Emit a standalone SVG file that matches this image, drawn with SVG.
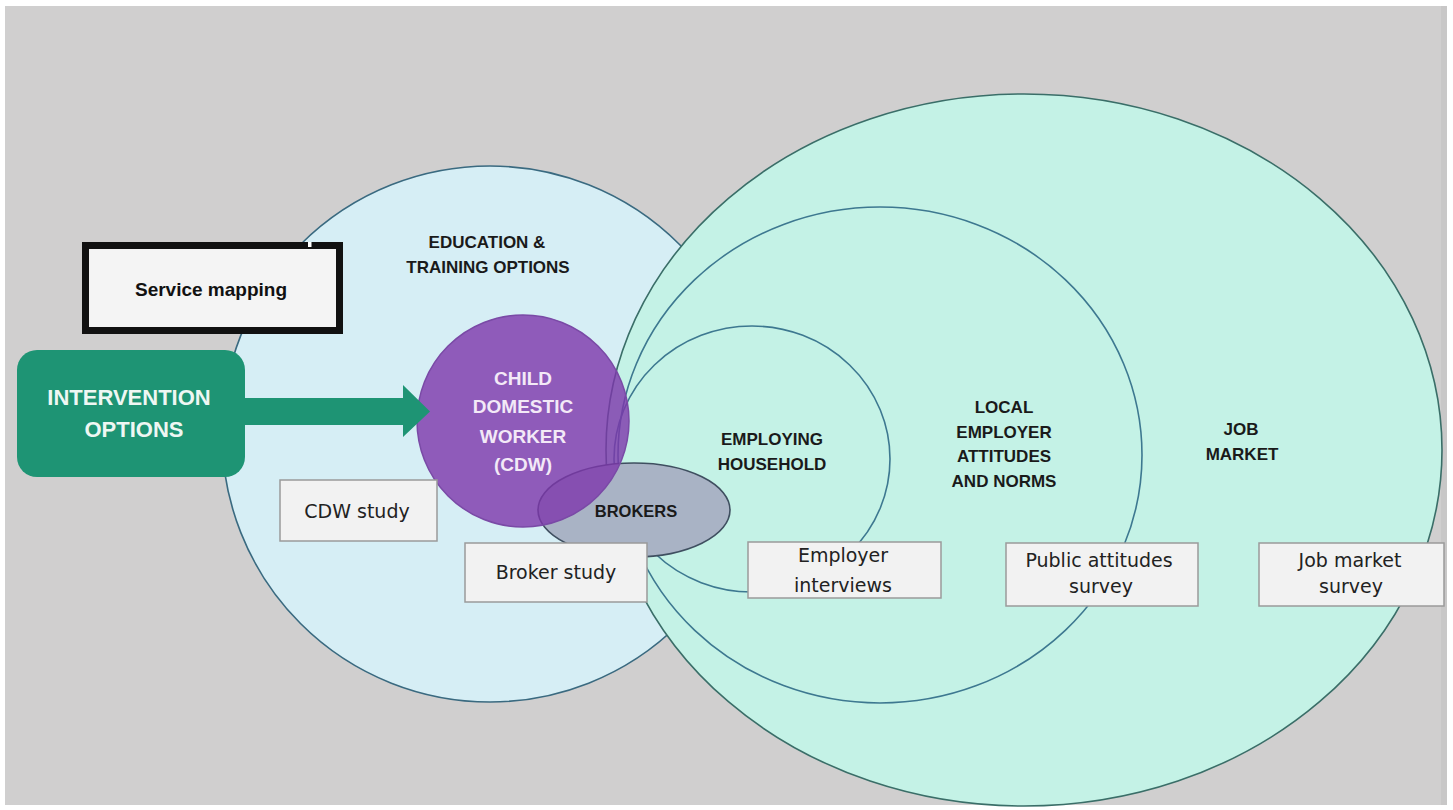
<svg xmlns="http://www.w3.org/2000/svg" width="1453" height="810" viewBox="0 0 1453 810">
<style>
.lbl{font-family:"Liberation Sans",Arial,sans-serif;font-weight:bold;font-size:17px;fill:#1a1a1a;text-anchor:middle}
.cdw{font-family:"Liberation Sans",Arial,sans-serif;font-weight:bold;font-size:19px;fill:#f3e9f7;text-anchor:middle}
.box{fill:#f2f2f2;stroke:#9a9a9a;stroke-width:1.5}
.btxt{font-family:"DejaVu Sans",sans-serif;font-size:19px;fill:#222;text-anchor:middle}
.green{fill:#c4f2e6;stroke:#3a6e68;stroke-width:1.6}
.ring{fill:none;stroke:#3d7890;stroke-width:1.6}
</style>
<rect x="0" y="0" width="1453" height="810" fill="#ffffff"/>
<rect x="5" y="6" width="1442" height="799" fill="#d0cfcf"/>
<rect x="1441" y="6" width="6" height="799" fill="#c8c7c7"/>

<g id="education">
<circle cx="490" cy="434" r="268" fill="#d6eef5" stroke="#3a6a80" stroke-width="1.6"/>
</g>
<g id="job-market">
<ellipse cx="1024" cy="450" rx="418" ry="356" class="green"/>
</g>
<g id="local-employer">
<ellipse cx="880" cy="455" rx="262" ry="248" class="ring"/>
</g>
<g id="employing-household">
<ellipse cx="752" cy="459" rx="138" ry="133" class="ring"/>
</g>
<g id="brokers">
<ellipse cx="634" cy="510" rx="96" ry="47" fill="#a9b3c5" stroke="#3f4f60" stroke-width="1.6"/>
</g>
<g id="cdw">
<circle cx="523" cy="421" r="106" fill="#7d36ab" fill-opacity="0.8" stroke="#7a4aa6" stroke-width="1.5"/>
<text class="cdw" x="523" y="385">CHILD</text>
<text class="cdw" x="523" y="413">DOMESTIC</text>
<text class="cdw" x="523" y="443">WORKER</text>
<text class="cdw" x="523" y="471">(CDW)</text>
</g>
<text class="lbl" x="636" y="517" style="font-size:16.5px">BROKERS</text>

<g id="connectors">
<polygon points="244,398 403,398 403,385 430,411.5 403,437 403,425 244,425" fill="#1e9474"/>
</g>

<g id="intervention">
<rect x="17" y="350" width="228" height="127" rx="20" fill="#1e9474"/>
<text x="129" y="405" style="font-family:'Liberation Sans',Arial,sans-serif;font-weight:bold;font-size:22px;fill:#eef7f3;text-anchor:middle">INTERVENTION</text>
<text x="134" y="437" style="font-family:'Liberation Sans',Arial,sans-serif;font-weight:bold;font-size:22px;fill:#eef7f3;text-anchor:middle">OPTIONS</text>
</g>

<g id="service-mapping">
<rect x="85.5" y="245.5" width="254" height="85" fill="#f4f4f4" stroke="#111" stroke-width="7"/>
<rect x="308" y="242" width="3.5" height="5" fill="#ffffff"/>
<text x="211" y="296" style="font-family:'Liberation Sans',Arial,sans-serif;font-weight:bold;font-size:19px;fill:#111;text-anchor:middle">Service mapping</text>
</g>

<g id="labels">
<text class="lbl" x="487" y="248">EDUCATION &amp;</text>
<text class="lbl" x="488" y="273">TRAINING OPTIONS</text>
<text class="lbl" x="772" y="445">EMPLOYING</text>
<text class="lbl" x="772" y="470">HOUSEHOLD</text>
<text class="lbl" x="1004" y="413">LOCAL</text>
<text class="lbl" x="1004" y="438">EMPLOYER</text>
<text class="lbl" x="1004" y="462">ATTITUDES</text>
<text class="lbl" x="1004" y="487">AND NORMS</text>
<text class="lbl" x="1241" y="435">JOB</text>
<text class="lbl" x="1242" y="460">MARKET</text>
</g>

<g id="cdw-study">
<rect class="box" x="280" y="480" width="157" height="61"/>
<text class="btxt" x="357" y="518">CDW study</text>
</g>
<g id="broker-study">
<rect class="box" x="465" y="543" width="182" height="59"/>
<text class="btxt" x="556" y="579">Broker study</text>
</g>
<g id="employer-interviews">
<rect class="box" x="748" y="542" width="193" height="56"/>
<text class="btxt" x="843" y="562">Employer</text>
<text class="btxt" x="843" y="592">interviews</text>
</g>
<g id="public-attitudes-survey">
<rect class="box" x="1006" y="543" width="192" height="63"/>
<text class="btxt" x="1099" y="567">Public attitudes</text>
<text class="btxt" x="1101" y="593">survey</text>
</g>
<g id="job-market-survey">
<rect class="box" x="1259" y="543" width="185" height="63"/>
<text class="btxt" x="1350" y="567">Job market</text>
<text class="btxt" x="1351" y="593">survey</text>
</g>
</svg>
